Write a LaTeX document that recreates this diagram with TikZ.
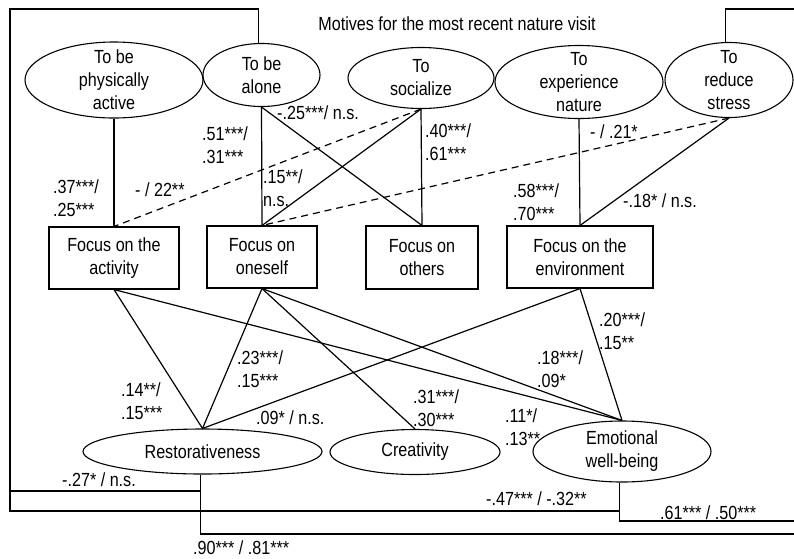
\documentclass[tikz,border=0pt]{standalone}
\usepackage{fontspec}
\setmainfont[FakeStretch=0.85]{Liberation Sans}
\usetikzlibrary{shapes.geometric}

\begin{document}
\begin{tikzpicture}[x=1pt,y=-1pt,
  every node/.style={font=\fontsize{19}{23}\selectfont, inner sep=0pt},
  motive/.style={draw, ellipse, line width=1.1pt, align=center, inner sep=-20pt},
  focus/.style={draw, rectangle, line width=1.1pt, align=center},
  outcome/.style={draw, ellipse, line width=1.1pt, align=center, inner sep=-20pt},
  link/.style={line width=1.2pt},
  dlink/.style={line width=1.2pt, dash pattern=on 7pt off 5pt},
  coef/.style={align=left, anchor=west}
]
\useasboundingbox (0,0) rectangle (794,558);

% title
\node (title) at (457,24) {Motives for the most recent nature visit};

% motives
\node[motive, minimum width=178, minimum height=76] (active) at (114,80) {To be\\physically\\active};
\node[motive, minimum width=117, minimum height=63] (alone) at (261.5,75) {To be\\alone};
\node[motive, minimum width=146, minimum height=61] (social) at (421,78) {To\\socialize};
\node[motive, minimum width=168, minimum height=73] (nature) at (579,82) {To\\experience\\nature};
\node[motive, minimum width=128, minimum height=75] (stress) at (729,80) {To\\reduce\\stress};

% attentional focus
\node[focus, minimum width=130, minimum height=62] (fact) at (114,258) {Focus on the\\activity};
\node[focus, minimum width=110, minimum height=62] (fself) at (262,257) {Focus on\\oneself};
\node[focus, minimum width=112, minimum height=63] (fothers) at (422,257.5) {Focus on\\others};
\node[focus, minimum width=146, minimum height=62] (fenv) at (580,257) {Focus on the\\environment};

% outcomes
\node[outcome, minimum width=239, minimum height=45] (resto) at (202.5,451.5) {Restorativeness};
\node[outcome, minimum width=170, minimum height=45] (creat) at (415,452) {Creativity};
\node[outcome, minimum width=178, minimum height=61] (ewb) at (622,451.5) {Emotional\\well-being};

% motives -> focus
\draw[link] (active.south) -- (fact.north);
\draw[link] (alone.south) -- (fself.north);
\draw[link] (alone.south) -- (fothers.north);
\draw[link] (social.south) -- (fself.north);
\draw[link] (social.south) -- (fothers.north);
\draw[link] (nature.south) -- (fenv.north);
\draw[link] (stress.south) -- (fenv.north);
\draw[dlink] (social.south) -- (fact.north);
\draw[dlink] (stress.south) -- (fself.north);

% focus -> outcomes
\draw[link] (fact.south) -- (resto.north);
\draw[link] (fact.south) -- (ewb.north);
\draw[link] (fself.south) -- (resto.north);
\draw[link] (fself.south) -- (creat.north);
\draw[link] (fself.south) -- (ewb.north);
\draw[link] (fenv.south) -- (resto.north);
\draw[link] (fenv.south) -- (ewb.north);

% direct paths from motives to outcomes
\coordinate (ltop) at (10,9);
\coordinate (lbranch) at (10,491);
\coordinate (rtop) at (795,9);
\coordinate (rbranch) at (795,521);
\draw[link] (alone.95) |- (ltop) -- (10,511) -| (ewb.265);
\draw[link] (lbranch) -| (resto.265);
\draw[link] (stress.95) |- (rtop) -- (795,534) -| (resto.265);
\draw[link] (rbranch) -| (ewb.265);

% coefficients
\node[coef] at (53,198) {.37***/\\.25***};
\node[coef] at (135,190) {- / 22**};
\node[coef] at (202,145) {.51***/\\.31***};
\node[coef] at (277,113) {-.25***/ n.s.};
\node[coef] at (263,188.5) {.15**/\\n.s.};
\node[coef] at (425,142.5) {.40***/\\.61***};
\node[coef] at (590,132) {- / .21*};
\node[coef] at (513,202.5) {.58***/\\.70***};
\node[coef] at (623,201) {-.18* / n.s.};
\node[coef] at (599,331) {.20***/\\.15**};
\node[coef] at (537,369) {.18***/\\.09*};
\node[coef] at (237,369) {.23***/\\.15***};
\node[coef] at (121,401.5) {.14**/\\.15***};
\node[coef] at (413,408.5) {.31***/\\.30***};
\node[coef] at (505,427.5) {.11*/\\.13**};
\node[coef] at (256,418) {.09* / n.s.};
\node[coef] at (62,480) {-.27* / n.s.};
\node[coef] at (486,499) {-.47*** / -.32**};
\node[coef] at (660,513) {.61*** / .50***};
\node[coef] at (193,548) {.90*** / .81***};
\end{tikzpicture}
\end{document}
